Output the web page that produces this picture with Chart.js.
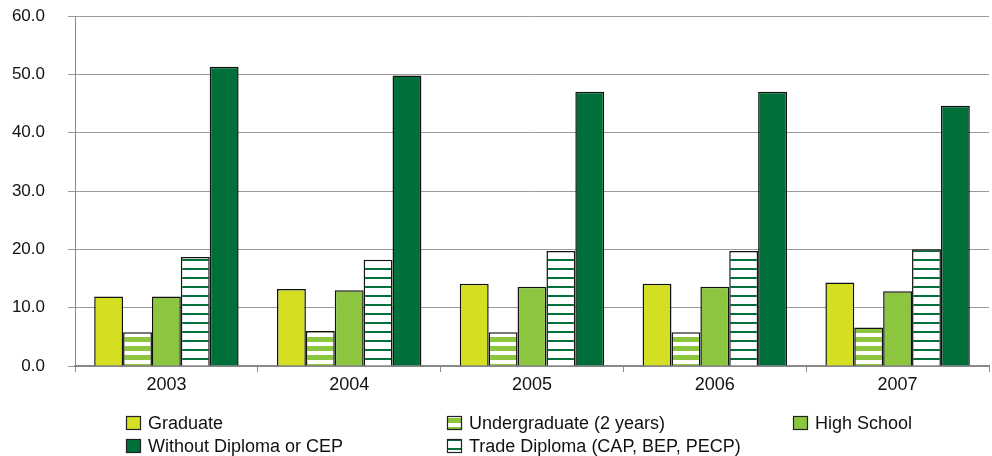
<!DOCTYPE html>
<html>
<head>
<meta charset="utf-8">
<script src="https://cdn.jsdelivr.net/npm/chart.js@4"></script>
<style>
    html, body { margin: 0; padding: 0; background: #fff; }
    #wrap { width: 992px; height: 456px; }
</style>
</head>
<body>
<div id="wrap"><canvas id="bar-chart" width="992" height="456"></canvas></div>
<script>
'use strict';

const years = ['2003', '2004', '2005', '2006', '2007'];
const graduate = [11.9, 13.2, 14.1, 14.1, 14.3];
const undergraduate = [5.8, 6.0, 5.8, 5.8, 6.6];
const highSchool = [11.9, 13.0, 13.6, 13.6, 12.8];
const tradeDiploma = [18.7, 18.2, 19.7, 19.7, 20.0];
const withoutDiploma = [51.3, 49.8, 47.0, 47.0, 44.6];

const LIGHT = '#d5df22';
const MID = '#8cc63e';
const DARK = '#00703a';
const FONT = '"Liberation Sans", Arial, sans-serif';

/**
 * horizontal stripes on white
 * @param {string} color
 * @param {number} y stripe start in a 9px period
 * @param {number} h stripe height
 */
function stripes(color, y, h) {
    let c = document.createElement('canvas');
    c.width = 4;
    c.height = 9;
    let g = c.getContext('2d');
    g.fillStyle = '#fff';
    g.fillRect(0, 0, 4, 9);
    g.fillStyle = color;
    g.fillRect(0, y, 4, h);
    return g.createPattern(c, 'repeat');
}

// legend drawn in two rows / three columns like the original
const bottomLegend = {
    id: 'bottomLegend',
    afterDraw(chart, args, opts) {
        const ctx = chart.ctx;
        ctx.save();
        ctx.font = '18px ' + FONT;
        ctx.textBaseline = 'middle';
        chart.data.datasets.forEach((ds, i) => {
            const [x, y] = opts.slots[i];
            ctx.fillStyle = ds.backgroundColor;
            ctx.fillRect(x, y - 7, 15, 14);
            ctx.strokeStyle = '#222';
            ctx.lineWidth = 1.2;
            ctx.strokeRect(x + 0.5, y - 6.5, 14, 13);
            ctx.fillStyle = '#111';
            ctx.fillText(ds.label, x + 22, y + 1);
        });
        ctx.restore();
    }
};

const ctx = document.getElementById('bar-chart').getContext('2d');

function bars(label, data, fill) {
    return {
        label: label,
        data: data,
        backgroundColor: fill,
        borderColor: '#111',
        borderWidth: 1.5,
        barPercentage: 1,
        categoryPercentage: 0.79
    };
}

new Chart(ctx, {
    type: 'bar',
    data: {
        labels: years,
        datasets: [
            bars('Graduate', graduate, LIGHT),
            bars('Undergraduate (2 years)', undergraduate, stripes(MID, 4, 5)),
            bars('High School', highSchool, MID),
            bars('Trade Diploma (CAP, BEP, PECP)', tradeDiploma, stripes(DARK, 7, 2.5)),
            bars('Without Diploma or CEP', withoutDiploma, DARK)
        ]
    },
    options: {
        responsive: false,
        animation: false,
        layout: { padding: { top: 16, right: 3, bottom: 60, left: 0 } },
        plugins: {
            legend: { display: false },
            tooltip: { enabled: false },
            bottomLegend: {
                // same order as datasets
                slots: [[126, 423], [447, 423], [793, 423], [447, 446], [126, 446]]
            }
        },
        scales: {
            x: {
                grid: {
                    offset: true,
                    drawOnChartArea: false,
                    drawTicks: true,
                    tickLength: 6,
                    color: '#888'
                },
                border: { display: true, color: '#888', width: 2 },
                ticks: {
                    color: '#111',
                    padding: 2,
                    font: { family: FONT, size: 18 }
                },
                afterFit(scale) { scale.height = 30; }
            },
            y: {
                min: 0,
                max: 60,
                grid: { color: '#9a9a9a', tickLength: 7, lineWidth: 1 },
                border: { display: true, color: '#888', width: 1 },
                ticks: {
                    stepSize: 10,
                    color: '#111',
                    padding: 23,
                    font: { family: FONT, size: 17 },
                    callback: v => v.toFixed(1)
                },
                afterFit(scale) {
                    // tick padding otherwise pushes the plot top down
                    scale.width = 75;
                    scale.paddingTop = 0;
                    scale.paddingBottom = 0;
                }
            }
        }
    },
    plugins: [bottomLegend]
});
</script>
</body>
</html>
